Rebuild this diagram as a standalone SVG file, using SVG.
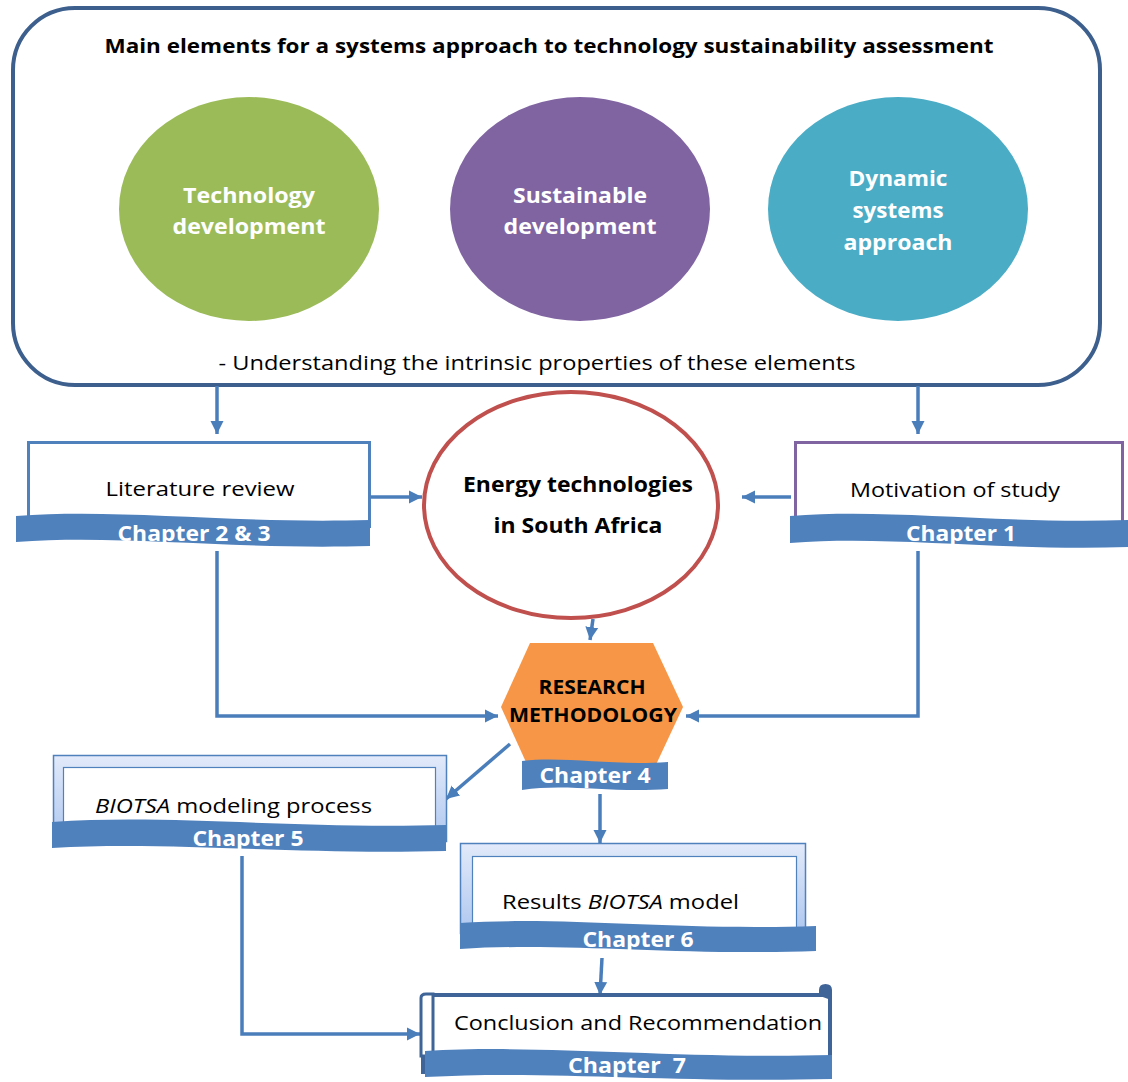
<svg xmlns="http://www.w3.org/2000/svg" width="1128" height="1082" viewBox="0 0 1128 1082">
  <defs>
    <style>
      text { font-family: "Open Sans", "Noto Sans", "Liberation Sans", sans-serif; }
      .b { font-weight: bold; }
      .blk { fill: #000000; }
      .wht { fill: #ffffff; font-weight: bold; }
      .banner { fill: #4F81BD; stroke: none; }
      .conn { fill: none; stroke: #4A7EBB; stroke-width: 3.5; marker-end: url(#arrow); }
      .frame { fill: url(#frameGrad); stroke: #4F81BD; stroke-width: 1.5; }
      .inner { fill: #ffffff; stroke: #4F81BD; stroke-width: 1.2; }
    </style>
    <linearGradient id="frameGrad" x1="0" y1="0" x2="0" y2="1">
      <stop offset="0" stop-color="#e2eafa"/>
      <stop offset="1" stop-color="#aec7ef"/>
    </linearGradient>
    <marker id="arrow" markerUnits="userSpaceOnUse" markerWidth="14" markerHeight="14" viewBox="0 0 14 14" refX="13" refY="7" orient="auto">
      <path d="M0,0.5 L13,7 L0,13.5 z" fill="#4A7EBB"/>
    </marker>
  </defs>

  <!-- Top panel: main elements -->
  <g id="main-elements">
    <rect x="13" y="8" width="1087" height="377" rx="62" ry="62" fill="#ffffff" stroke="#3C5F8E" stroke-width="4"/>
    <text x="549" y="53" text-anchor="middle" class="b blk" font-size="20" textLength="889" lengthAdjust="spacingAndGlyphs">Main elements for a systems approach to technology sustainability assessment</text>
    <text x="537" y="370" text-anchor="middle" class="blk" font-size="19.5" textLength="637" lengthAdjust="spacingAndGlyphs">- Understanding the intrinsic properties of these elements</text>
  </g>

  <g id="technology-development">
    <ellipse cx="249" cy="209" rx="130" ry="112" fill="#9BBB59"/>
    <text x="249" y="203" text-anchor="middle" class="wht" font-size="21" textLength="132" lengthAdjust="spacingAndGlyphs">Technology</text>
    <text x="249" y="234" text-anchor="middle" class="wht" font-size="21" textLength="153" lengthAdjust="spacingAndGlyphs">development</text>
  </g>

  <g id="sustainable-development">
    <ellipse cx="580" cy="209" rx="130" ry="112" fill="#8064A2"/>
    <text x="580" y="203" text-anchor="middle" class="wht" font-size="21" textLength="134" lengthAdjust="spacingAndGlyphs">Sustainable</text>
    <text x="580" y="234" text-anchor="middle" class="wht" font-size="21" textLength="153" lengthAdjust="spacingAndGlyphs">development</text>
  </g>

  <g id="dynamic-systems-approach">
    <ellipse cx="898" cy="209" rx="130" ry="112" fill="#4BACC6"/>
    <text x="898" y="186" text-anchor="middle" class="wht" font-size="21" textLength="99" lengthAdjust="spacingAndGlyphs">Dynamic</text>
    <text x="898" y="218" text-anchor="middle" class="wht" font-size="21" textLength="91" lengthAdjust="spacingAndGlyphs">systems</text>
    <text x="898" y="250" text-anchor="middle" class="wht" font-size="21" textLength="109" lengthAdjust="spacingAndGlyphs">approach</text>
  </g>

  <!-- Connectors -->
  <g id="connectors">
    <path class="conn" d="M217,386 V434"/>
    <path class="conn" d="M918,386 V434"/>
    <path class="conn" d="M371,497 H422"/>
    <path class="conn" d="M791,497 H742"/>
    <path class="conn" d="M593,619 L590,640"/>
    <path class="conn" d="M217,551 V716 H498"/>
    <path class="conn" d="M918,551 V716 H686"/>
    <path class="conn" d="M510,744 L446,799"/>
    <path class="conn" d="M600,794 V843"/>
    <path class="conn" d="M602,958 L600,995"/>
    <path class="conn" d="M242,856 V1034 H420"/>
  </g>

  <!-- Chapter 2 & 3 -->
  <g id="literature-review">
    <rect x="28.5" y="442.5" width="341" height="84" fill="#ffffff" stroke="#4F81BD" stroke-width="3"/>
    <text x="200" y="496" text-anchor="middle" class="blk" font-size="19.5" textLength="189" lengthAdjust="spacingAndGlyphs">Literature review</text>
    <path class="banner" d="M16,516 C122,508 228,524 370,520 L370,546 C228,550 122,534 16,542 Z"/>
    <text x="194" y="541" text-anchor="middle" class="wht" font-size="21" textLength="153" lengthAdjust="spacingAndGlyphs">Chapter 2 &amp; 3</text>
  </g>

  <!-- Central theme -->
  <g id="energy-technologies">
    <ellipse cx="571" cy="505" rx="147" ry="113" fill="#ffffff" stroke="#C0504D" stroke-width="4"/>
    <text x="578" y="492" text-anchor="middle" class="b blk" font-size="21" textLength="230" lengthAdjust="spacingAndGlyphs">Energy technologies</text>
    <text x="578" y="533" text-anchor="middle" class="b blk" font-size="21" textLength="169" lengthAdjust="spacingAndGlyphs">in South Africa</text>
  </g>

  <!-- Chapter 1 -->
  <g id="motivation-of-study">
    <rect x="795.5" y="442.5" width="327" height="84" fill="#ffffff" stroke="#8064A2" stroke-width="3"/>
    <text x="955" y="497" text-anchor="middle" class="blk" font-size="19.5" textLength="210" lengthAdjust="spacingAndGlyphs">Motivation of study</text>
    <path class="banner" d="M790,516 C891,508 993,524 1128,520 L1128,547 C993,551 891,535 790,543 Z"/>
    <text x="961" y="541" text-anchor="middle" class="wht" font-size="21" textLength="110" lengthAdjust="spacingAndGlyphs">Chapter 1</text>
  </g>

  <!-- Chapter 4 -->
  <g id="research-methodology">
    <polygon points="530,643 653,643 683,707 653,771 530,771 501,707" fill="#F79646"/>
    <text x="592" y="694" text-anchor="middle" class="b blk" font-size="19" textLength="107" lengthAdjust="spacingAndGlyphs">RESEARCH</text>
    <text x="593" y="722" text-anchor="middle" class="b blk" font-size="19" textLength="168" lengthAdjust="spacingAndGlyphs">METHODOLOGY</text>
    <path class="banner" d="M522,761 C566,756 610,766 668,762 L668,789 C610,793 566,783 522,790 Z"/>
    <text x="595" y="783" text-anchor="middle" class="wht" font-size="21" textLength="111" lengthAdjust="spacingAndGlyphs">Chapter 4</text>
  </g>

  <!-- Chapter 5 -->
  <g id="biotsa-modeling">
    <rect class="frame" x="53.5" y="755.5" width="393" height="86"/>
    <rect class="inner" x="63.5" y="767.5" width="372" height="68"/>
    <text x="95" y="813" class="blk" font-size="19.5" textLength="277" lengthAdjust="spacingAndGlyphs"><tspan font-style="italic">BIOTSA</tspan> modeling process</text>
    <path class="banner" d="M52,822 C170,814 288,829 446,825 L446,851 C288,855 170,841 52,848 Z"/>
    <text x="248" y="846" text-anchor="middle" class="wht" font-size="21" textLength="111" lengthAdjust="spacingAndGlyphs">Chapter 5</text>
  </g>

  <!-- Chapter 6 -->
  <g id="results-model">
    <rect class="frame" x="460.5" y="843.5" width="345" height="90"/>
    <rect class="inner" x="472.5" y="856.5" width="324" height="74"/>
    <text x="502" y="909" class="blk" font-size="19.5" textLength="237" lengthAdjust="spacingAndGlyphs">Results <tspan font-style="italic">BIOTSA</tspan> model</text>
    <path class="banner" d="M460,923 C567,916 674,931 816,926 L816,951 C674,956 567,942 460,949 Z"/>
    <text x="638" y="947" text-anchor="middle" class="wht" font-size="21" textLength="111" lengthAdjust="spacingAndGlyphs">Chapter 6</text>
  </g>

  <!-- Chapter 7 -->
  <g id="conclusion">
    <path d="M423,1002 Q423,995 430,995 H830 V1072 H423 Z" fill="#ffffff" stroke="#3F6498" stroke-width="4"/>
    <path d="M421,998 Q421,994 426,994 H433 V1056 H421 Z" fill="#ffffff" stroke="#3F6498" stroke-width="3"/>
    <path d="M820,996 V990 Q820,985 825.5,985 Q831,985 831,990 V1000" fill="#3F6498" stroke="#3F6498" stroke-width="2"/>
    <text x="454" y="1030" class="blk" font-size="19.5" textLength="368" lengthAdjust="spacingAndGlyphs">Conclusion and Recommendation</text>
    <path class="banner" d="M425,1051 C547,1044 669,1059 832,1055 L832,1079 C669,1083 547,1070 425,1077 Z"/>
    <text x="627" y="1073" text-anchor="middle" class="wht" font-size="21" textLength="118" lengthAdjust="spacingAndGlyphs" xml:space="preserve">Chapter  7</text>
  </g>
</svg>
